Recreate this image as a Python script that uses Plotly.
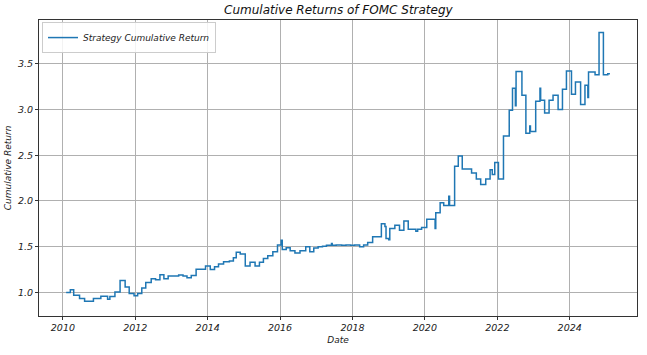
import plotly.graph_objects as go

dates = [
    "2010-02-03", "2010-03-17", "2010-04-20", "2010-06-18", "2010-08-08", "2010-11-05",
    "2011-01-19", "2011-03-28", "2011-04-20", "2011-06-10", "2011-08-01", "2011-09-21",
    "2011-11-01", "2011-12-20", "2012-01-25", "2012-03-07", "2012-04-16", "2012-06-10",
    "2012-07-24", "2012-09-06", "2012-10-16", "2012-11-28", "2013-03-14", "2013-04-27",
    "2013-06-06", "2013-07-19", "2013-09-06", "2013-12-10", "2014-01-27", "2014-03-11",
    "2014-04-20", "2014-06-10", "2014-08-08", "2014-09-17", "2014-10-16", "2014-11-25",
    "2015-01-15", "2015-03-04", "2015-04-24", "2015-06-07", "2015-07-17", "2015-08-30",
    "2015-10-20", "2015-12-06", "2016-01-12", "2016-01-23", "2016-03-03", "2016-04-12",
    "2016-05-30", "2016-07-20", "2016-09-16", "2016-10-27", "2016-12-06", "2017-01-19",
    "2017-03-04", "2017-04-13", "2017-06-03", "2017-06-10", "2017-07-20", "2017-09-13",
    "2017-10-27", "2017-12-13", "2018-01-22", "2018-03-14", "2018-04-23", "2018-06-03",
    "2018-07-23", "2018-10-19", "2018-11-24", "2018-12-05", "2019-01-01", "2019-01-12",
    "2019-03-04", "2019-04-20", "2019-06-03", "2019-07-17", "2019-10-02", "2019-10-20",
    "2019-11-29", "2020-01-20", "2020-04-13", "2020-04-20", "2020-06-03", "2020-07-09",
    "2020-08-29", "2020-09-06", "2020-10-27", "2020-12-03", "2021-01-12", "2021-04-16",
    "2021-06-03", "2021-07-17", "2021-09-06", "2021-10-20", "2021-11-11", "2021-12-06",
    "2022-01-12", "2022-03-04", "2022-05-01", "2022-06-03", "2022-07-02", "2022-07-09",
    "2022-09-06", "2022-10-16", "2022-11-24", "2022-12-01", "2023-01-23", "2023-03-07",
    "2023-03-14", "2023-04-23", "2023-06-07", "2023-07-17", "2023-09-06", "2023-10-20",
    "2023-11-29", "2024-01-19", "2024-02-28", "2024-04-20", "2024-06-03", "2024-07-02",
    "2024-07-09", "2024-09-13", "2024-10-23", "2024-12-06", "2025-01-19", "2025-02-10",
]

cum_return = [
    1.00, 1.03, 0.97, 0.935, 0.905, 0.935,
    0.96, 0.925, 0.955, 1.005, 1.13, 1.06,
    0.99, 0.965, 0.99, 1.05, 1.11, 1.15,
    1.14, 1.195, 1.15, 1.18, 1.19, 1.18,
    1.16, 1.185, 1.255, 1.29, 1.25, 1.28,
    1.31, 1.335, 1.345, 1.38, 1.44, 1.42,
    1.29, 1.33, 1.29, 1.33, 1.37, 1.40,
    1.445, 1.52, 1.57, 1.47, 1.49, 1.455,
    1.43, 1.455, 1.50, 1.445, 1.485, 1.50,
    1.505, 1.515, 1.535, 1.515, 1.52, 1.515,
    1.52, 1.515, 1.52, 1.50, 1.52, 1.545,
    1.61, 1.75, 1.72, 1.59, 1.575, 1.70,
    1.735, 1.68, 1.78, 1.69, 1.67, 1.69,
    1.71, 1.80, 1.70, 1.87, 1.98, 1.95,
    2.05, 1.95, 2.38, 2.49, 2.35, 2.305,
    2.24, 2.18, 2.24, 2.34, 2.29, 2.42,
    2.24, 2.71, 2.99, 3.23, 3.04, 3.415,
    3.155, 2.74, 2.82, 2.76, 3.09, 3.23,
    3.10, 2.96, 3.10, 3.155, 3.00, 3.22,
    3.42, 3.165, 3.30, 3.055, 3.265, 3.13,
    3.41, 3.38, 3.84, 3.38, 3.39, 3.39,
]

y_ticks = [1.0, 1.5, 2.0, 2.5, 3.0, 3.5]

FONT = "DejaVu Sans"
GRID = "#b0b0b0"
AXIS = "#333333"

fig = go.Figure()
fig.add_trace(go.Scatter(
    x=dates, y=cum_return, mode="lines", line_shape="hv",
    line=dict(color="#1f77b4", width=1.5),
    name="Strategy Cumulative Return",
))

fig.update_layout(
    width=647, height=355, autosize=False,
    margin=dict(l=39, r=10, t=20, b=39, autoexpand=False),
    paper_bgcolor="white", plot_bgcolor="white",
    font=dict(family=FONT, size=10, color="#222222", style="italic"),
    title=dict(text="Cumulative Returns of FOMC Strategy", x=0.523, xanchor="center",
               y=0.972, yanchor="middle",
               font=dict(family=FONT, size=12, color="#111111", style="italic")),
    showlegend=True,
    legend=dict(x=0.005, y=0.993, xanchor="left", yanchor="top",
                bgcolor="rgba(255,255,255,0.85)", bordercolor="#cccccc", borderwidth=1,
                font=dict(family=FONT, size=9, color="#222222", style="italic"),
                itemwidth=30, tracegroupgap=0),
)

fig.update_xaxes(
    type="date", range=["2009-05-05", "2025-11-10"], automargin=False,
    tick0="2010-01-01", dtick="M24", tickformat="%Y",
    showgrid=True, gridcolor=GRID, gridwidth=1,
    showline=True, linecolor=AXIS, linewidth=1, mirror=True,
    ticks="outside", ticklen=3, tickcolor=AXIS,
    tickfont=dict(family=FONT, size=9.5, color="#222222", style="italic"),
    title=dict(text="Date", standoff=4,
               font=dict(family=FONT, size=9, color="#222222", style="italic")),
    zeroline=False,
)
fig.update_yaxes(
    range=[0.743, 3.977], tickvals=y_ticks, tickformat=".1f", automargin=False,
    showgrid=True, gridcolor=GRID, gridwidth=1,
    showline=True, linecolor=AXIS, linewidth=1, mirror=True,
    ticks="outside", ticklen=3, tickcolor=AXIS,
    tickfont=dict(family=FONT, size=9.5, color="#222222", style="italic"),
    title=dict(text="Cumulative Return", standoff=4,
               font=dict(family=FONT, size=9, color="#222222", style="italic")),
    zeroline=False,
)

fig.write_html("out.html", config={"displayModeBar": False},
               post_script="document.body.style.margin='0';")
